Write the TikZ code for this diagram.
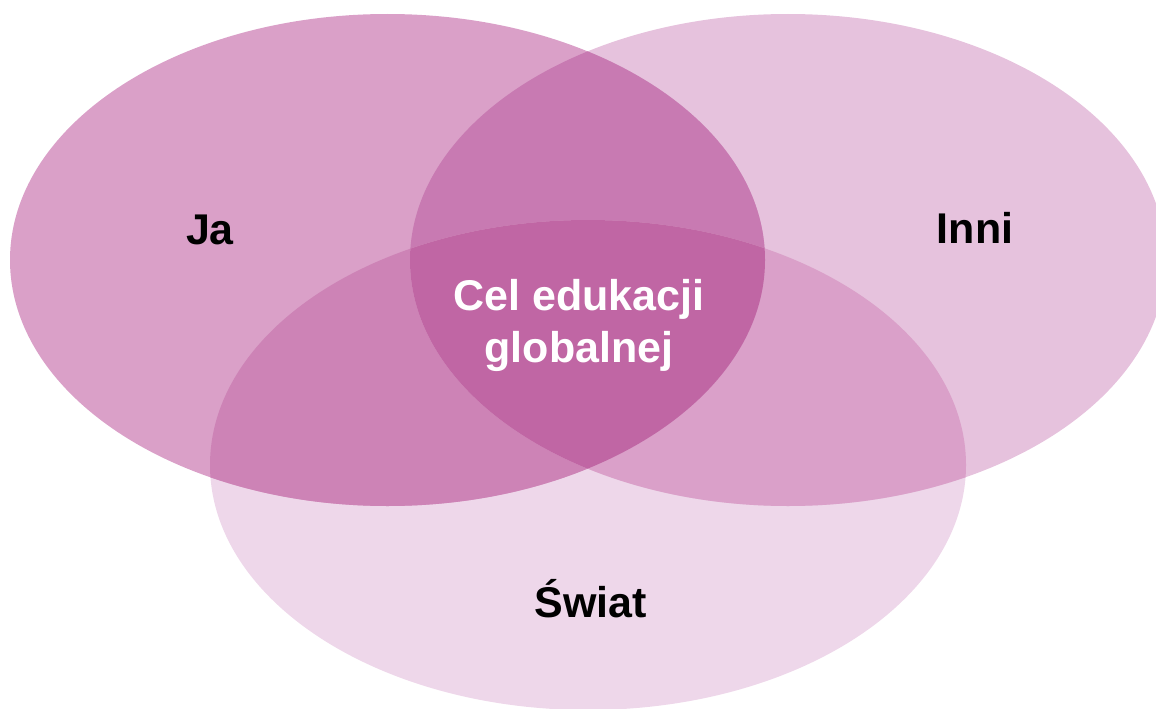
\documentclass[tikz,border=0pt]{standalone}
\usepackage{fontspec}
\setmainfont{Liberation Sans}
\definecolor{jaC}{HTML}{DAA0C8}
\definecolor{inniC}{HTML}{E6C2DD}
\definecolor{swC}{HTML}{EED7EA}
\definecolor{jiC}{HTML}{C87AB2}
\definecolor{jsC}{HTML}{CD83B6}
\definecolor{isC}{HTML}{DAA0C9}
\definecolor{allC}{HTML}{C066A4}
\tikzset{
  lbl/.style={font=\fontsize{43}{52}\selectfont\bfseries, anchor=base, inner sep=0pt},
}
\begin{document}
\begin{tikzpicture}[x=1pt,y=-1pt]
\useasboundingbox (0,0) rectangle (1156,709);
\clip (0,0) rectangle (1156,709);
\def\ja{(387.5,260) ellipse [x radius=377.5, y radius=246]}
\def\inni{(788,260) ellipse [x radius=378, y radius=246]}
\def\sw{(588,465) ellipse [x radius=378, y radius=245]}
\fill[swC] \sw;
\fill[inniC] \inni;
\fill[jaC] \ja;
\begin{scope}\clip \ja; \fill[jiC] \inni; \fill[jsC] \sw; \end{scope}
\begin{scope}\clip \inni; \fill[isC] \sw; \end{scope}
\begin{scope}\clip \ja; \clip \inni; \fill[allC] \sw; \end{scope}
\node[lbl] (ja) at (210,244) {Ja};
\node[lbl] (inni) at (975,243) {Inni};
\node[lbl] (swiat) at (591,617) {Świat};
\node[lbl, white] (cel1) at (579,310) {Cel edukacji};
\node[lbl, white] (cel2) at (579,362) {globalnej};
\end{tikzpicture}
\end{document}
